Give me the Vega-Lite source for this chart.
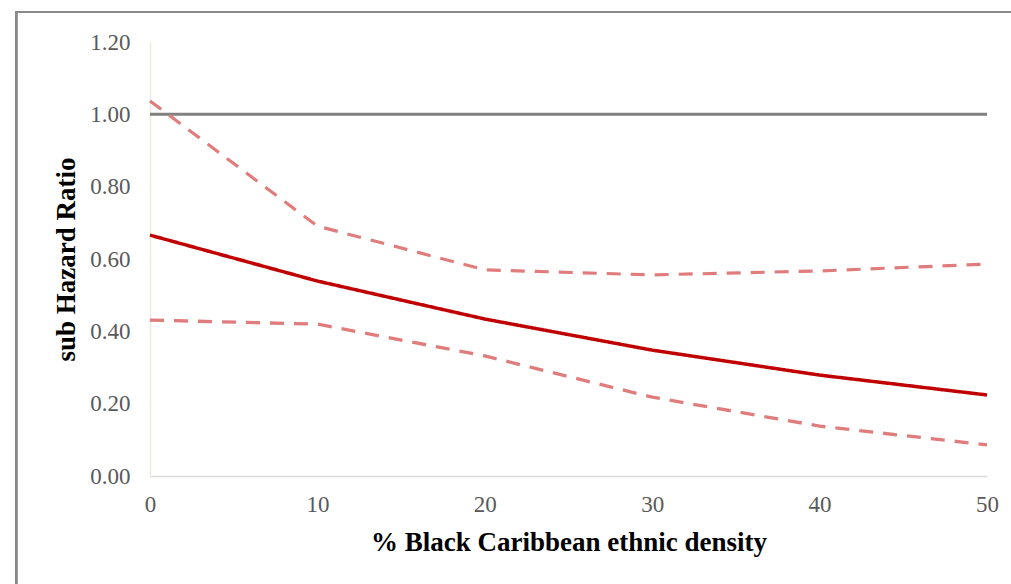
{
  "$schema": "https://vega.github.io/schema/vega-lite/v6.json",
  "width": 837,
  "height": 434,
  "autosize": {"type": "none"},
  "padding": {"left": 150, "top": 42, "right": 24, "bottom": 108},
  "background": "white",
  "config": {
    "view": {"stroke": null},
    "font": "Liberation Serif"
  },
  "data": {
    "values": [
      {"density": 0, "shr": 1.0, "series": "ref"},
      {"density": 50, "shr": 1.0, "series": "ref"},
      {"density": 0, "shr": 1.037, "series": "upper"},
      {"density": 10, "shr": 0.691, "series": "upper"},
      {"density": 20, "shr": 0.57, "series": "upper"},
      {"density": 30, "shr": 0.556, "series": "upper"},
      {"density": 40, "shr": 0.567, "series": "upper"},
      {"density": 50, "shr": 0.586, "series": "upper"},
      {"density": 0, "shr": 0.431, "series": "lower"},
      {"density": 10, "shr": 0.42, "series": "lower"},
      {"density": 20, "shr": 0.332, "series": "lower"},
      {"density": 30, "shr": 0.218, "series": "lower"},
      {"density": 40, "shr": 0.138, "series": "lower"},
      {"density": 50, "shr": 0.086, "series": "lower"},
      {"density": 0, "shr": 0.666, "series": "estimate"},
      {"density": 10, "shr": 0.539, "series": "estimate"},
      {"density": 20, "shr": 0.434, "series": "estimate"},
      {"density": 30, "shr": 0.348, "series": "estimate"},
      {"density": 40, "shr": 0.279, "series": "estimate"},
      {"density": 50, "shr": 0.224, "series": "estimate"}
    ]
  },
  "layer": [
    {
      "mark": {"type": "rect", "fill": null, "stroke": "#8a8a8a", "strokeWidth": 2, "clip": false},
      "encoding": {
        "x": {"datum": -8.0, "type": "quantitative"},
        "x2": {"datum": 56},
        "y": {"datum": 1.283, "type": "quantitative"},
        "y2": {"datum": -0.5}
      }
    },
    {
      "mark": {"type": "line", "clip": false},
      "encoding": {
        "x": {
          "field": "density", "type": "quantitative",
          "scale": {"domain": [0, 50], "nice": false, "zero": false},
          "axis": {
            "title": "% Black Caribbean ethnic density",
            "values": [0, 10, 20, 30, 40, 50],
            "format": "d",
            "grid": false, "ticks": false,
            "labelFlush": false, "labelOverlap": false,
            "domainColor": "#d9d9d9", "domainWidth": 1.5,
            "labelColor": "#595959", "labelFontSize": 23, "labelPadding": 17,
            "labelFont": "Liberation Serif",
            "titleFont": "Liberation Serif", "titleFontSize": 27, "titleFontWeight": "bold",
            "titleColor": "#000000", "titlePadding": 13
          }
        },
        "y": {
          "field": "shr", "type": "quantitative",
          "scale": {"domain": [0, 1.2], "nice": false},
          "axis": {
            "title": "sub Hazard Ratio",
            "values": [0, 0.2, 0.4, 0.6, 0.8, 1.0, 1.2],
            "format": ".2f",
            "grid": false, "ticks": false,
            "labelFlush": false, "labelOverlap": false,
            "domainColor": "#eeeadc", "domainWidth": 1.5,
            "labelColor": "#595959", "labelFontSize": 23, "labelPadding": 20,
            "labelFont": "Liberation Serif",
            "titleFont": "Liberation Serif", "titleFontSize": 27, "titleFontWeight": "bold",
            "titleColor": "#000000", "titlePadding": 9
          }
        },
        "detail": {"field": "series"},
        "color": {
          "field": "series", "type": "nominal",
          "scale": {"domain": ["ref", "upper", "lower", "estimate"], "range": ["#808080", "#e07c7c", "#e07c7c", "#c00000"]},
          "legend": null
        },
        "strokeDash": {
          "field": "series", "type": "nominal",
          "scale": {"domain": ["ref", "upper", "lower", "estimate"], "range": [[1, 0], [14, 10], [14, 10], [1, 0]]},
          "legend": null
        },
        "strokeWidth": {
          "field": "series", "type": "nominal",
          "scale": {"domain": ["ref", "upper", "lower", "estimate"], "range": [3, 3.5, 3.5, 5.5]},
          "legend": null
        },
        "order": {"field": "density", "type": "quantitative"}
      }
    }
  ]
}
